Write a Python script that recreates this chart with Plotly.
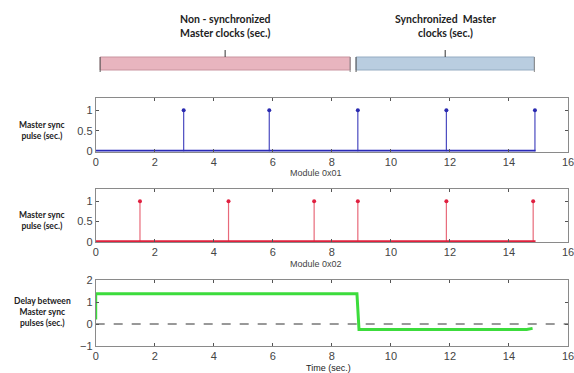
import plotly.graph_objects as go

W, H = 574, 373

# ---- data ----
x_ticks = [0, 2, 4, 6, 8, 10, 12, 14, 16]

mod1_pulse_t = [2.98, 5.88, 8.88, 11.88, 14.88]
mod1_pulse_v = [1, 1, 1, 1, 1]
mod1_base_t = [0.0, 14.9]

mod2_pulse_t = [1.5, 4.5, 7.4, 8.88, 11.88, 14.82]
mod2_pulse_v = [1, 1, 1, 1, 1, 1]
mod2_base_t = [0.0, 14.9]

delay_t = [0.0, 0.0, 0.05, 8.85, 8.92, 14.6, 14.8]
delay_v = [0.2, 1.38, 1.38, 1.38, -0.25, -0.25, -0.2]

segments = ["Non - synchronized<br>Master clocks (sec.)", "Synchronized  Master<br>clocks (sec.)"]
segment_start = [0.15, 8.82]
segment_end = [8.62, 14.86]
segment_fill = ["#e8b5bf", "#b9cde0"]
segment_edge = ["#c9949f", "#95acc2"]

ylabels = ["Master sync<br>pulse (sec.)", "Master sync<br>pulse (sec.)", "Delay between<br>Master sync<br>pulses (sec.)"]
xlabels = ["Module 0x01", "Module 0x02", "Time (sec.)"]

# ---- layout helpers ----
def py(p):
    return 1 - p / H

def px(p):
    return p / W

x_dom = [px(95.7), px(568)]
doms = [[py(151.5), py(98)], [py(242), py(189)], [py(346), py(280)]]

fig = go.Figure()

def stems(t, v, color, xa, ya):
    xs, ys = [], []
    for a, b in zip(t, v):
        xs += [a, a, None]
        ys += [0, b, None]
    fig.add_trace(go.Scatter(x=xs, y=ys, mode="lines", line=dict(color=color, width=1.2),
                             xaxis=xa, yaxis=ya, showlegend=False, hoverinfo="skip"))

# panel 1 (blue)
stems(mod1_pulse_t, mod1_pulse_v, "#4a4ac0", "x", "y")
fig.add_trace(go.Scatter(x=mod1_pulse_t, y=mod1_pulse_v, mode="markers",
                         marker=dict(color="#2a2ab0", size=4), xaxis="x", yaxis="y",
                         showlegend=False, cliponaxis=False))
fig.add_trace(go.Scatter(x=mod1_base_t, y=[0, 0], mode="lines",
                         line=dict(color="#2a2ab8", width=3.5), xaxis="x", yaxis="y",
                         showlegend=False, cliponaxis=False))

# panel 2 (red)
stems(mod2_pulse_t, mod2_pulse_v, "#e86a7a", "x2", "y2")
fig.add_trace(go.Scatter(x=mod2_pulse_t, y=mod2_pulse_v, mode="markers",
                         marker=dict(color="#e02040", size=4), xaxis="x2", yaxis="y2",
                         showlegend=False, cliponaxis=False))
fig.add_trace(go.Scatter(x=mod2_base_t, y=[0, 0], mode="lines",
                         line=dict(color="#e0203c", width=3.5), xaxis="x2", yaxis="y2",
                         showlegend=False, cliponaxis=False))

# panel 3 (green)
fig.add_trace(go.Scatter(x=[0, 16], y=[0, 0], mode="lines",
                         line=dict(color="#333333", width=1, dash="dash"),
                         xaxis="x3", yaxis="y3", showlegend=False))
fig.add_trace(go.Scatter(x=delay_t, y=delay_v, mode="lines",
                         line=dict(color="#3cdc3c", width=3),
                         xaxis="x3", yaxis="y3", showlegend=False))

axis_common = dict(showline=True, linecolor="#8a8a8a", linewidth=1, mirror="ticks",
                   ticks="inside", ticklen=3, tickcolor="#555555", showgrid=False,
                   zeroline=False, automargin=False, ticklabeloverflow="allow",
                   tickfont=dict(family="Liberation Sans, Arial", size=11, color="#444444"))

for i, (dom, yr, ytv) in enumerate(zip(doms, [[0, 1.3], [0, 1.3], [-1, 2]],
                                        [[0, 0.5, 1], [0, 0.5, 1], [-1, 0, 1, 2]])):
    sx = "" if i == 0 else str(i + 1)
    fig.update_layout(**{
        "xaxis" + sx: dict(domain=x_dom, range=[0, 16], tickvals=x_ticks,
                           anchor="y" + sx, **axis_common),
        "yaxis" + sx: dict(domain=dom, range=yr, tickvals=ytv,
                           anchor="x" + sx, **axis_common),
    })

ann = []
lab_y = [130, 221, 312]
for lbl, yy in zip(ylabels, lab_y):
    ann.append(dict(text="<b>" + lbl + "</b>", x=px(42), y=py(yy), xref="paper", yref="paper",
                    xanchor="center", yanchor="middle",
                    showarrow=False, font=dict(family="Lato, Open Sans", size=8.5, color="#222222"),
                    align="center"))
for lbl, xx, yy in zip(xlabels, [316, 316, 328], [173, 264, 368]):
    ann.append(dict(text=lbl, x=px(xx), y=py(yy), xref="paper", yref="paper", showarrow=False,
                    xanchor="center", yanchor="middle",
                    font=dict(family="Liberation Sans, Arial", size=9,
                              color="#222222" if lbl.startswith("Time") else "#444444"),
                    align="center"))

shapes = []
top, bot = py(57), py(70)
for s, e, f, ec, txt in zip(segment_start, segment_end, segment_fill, segment_edge, segments):
    shapes.append(dict(type="rect", xref="x", yref="paper", x0=s, x1=e, y0=bot, y1=top,
                       fillcolor=f, line=dict(color=ec, width=1)))
    # curled bracket ends
    shapes.append(dict(type="line", xref="x", yref="paper", x0=s, x1=s, y0=py(72), y1=top,
                       line=dict(color="#555555", width=1)))
    shapes.append(dict(type="line", xref="x", yref="paper", x0=e, x1=e, y0=py(72), y1=top,
                       line=dict(color="#888888", width=1)))
    mid = (s + e) / 2
    shapes.append(dict(type="line", xref="x", yref="paper", x0=mid, x1=mid, y0=top, y1=py(50),
                       line=dict(color="#333333", width=1)))
    ann.append(dict(text="<b>" + txt + "</b>", x=mid, y=py(26), xref="x", yref="paper",
                    xanchor="center", yanchor="middle",
                    showarrow=False, align="center",
                    font=dict(family="Lato, Open Sans", size=10.5, color="#222222")))

fig.update_layout(width=W, height=H, margin=dict(l=0, r=0, t=0, b=0),
                  paper_bgcolor="white", plot_bgcolor="white",
                  annotations=ann, shapes=shapes, showlegend=False)

fig.write_html("out.html")
